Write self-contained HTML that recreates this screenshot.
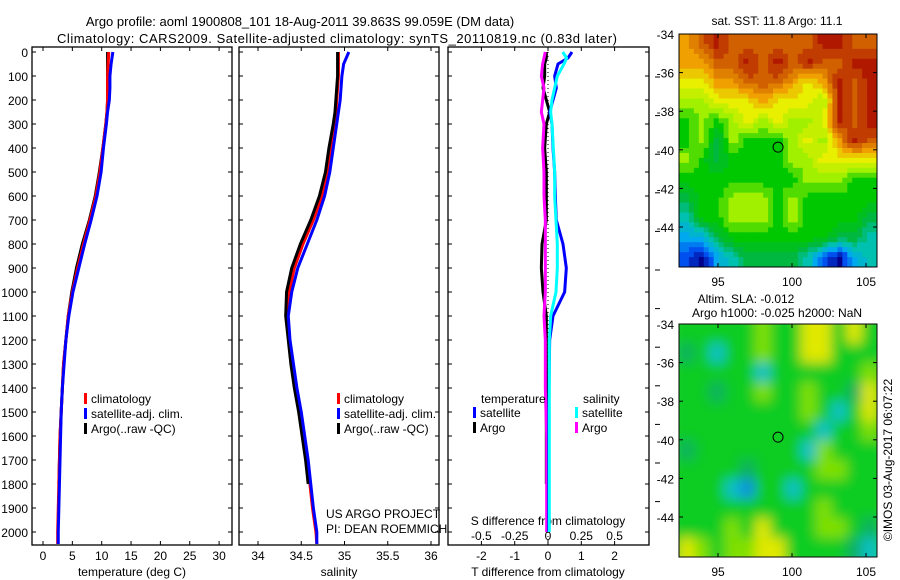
<!DOCTYPE html>
<html><head><meta charset="utf-8"><style>
body{margin:0;background:#fff;}
svg{display:block;font-family:"Liberation Sans",sans-serif;}
text{fill:#000;}
</style></head><body>
<svg id="c" width="900" height="580" viewBox="0 0 900 580">
<defs>
<filter id="blur" x="0" y="0" width="1" height="1"><feGaussianBlur stdDeviation="6"/></filter>
<clipPath id="clipB"><rect x="679" y="324" width="198" height="233"/></clipPath>
</defs>
<text x="300" y="26" font-size="13" text-anchor="middle">Argo profile: aoml 1900808_101 18-Aug-2011 39.863S 99.059E (DM data)</text>
<text x="57" y="43" font-size="13" textLength="560">Climatology: CARS2009. Satellite-adjusted climatology: synTS_20110819.nc (0.83d later)</text>
<g id="g"></g>
</svg>
<script>
// ---------- data ----------
const depthLabels=[0,100,200,300,400,500,600,700,800,900,1000,1100,1200,1300,1400,1500,1600,1700,1800,1900,2000];
const tempTicks=[0,5,10,15,20,25,30];
const salTicks=[34,34.5,35,35.5,36];
const tdiffTicks=[-2,-1,0,1,2];
const sdiffTicks=[-0.5,-0.25,0,0.25,0.5];
const profDepth=[0,50,100,150,200,250,300,400,500,600,700,800,900,1000,1100,1200,1300,1400,1500,1600,1700,1800,1900,2000,2050];
const tempClim=[11.2,11.1,11.0,11.0,11.0,10.9,10.7,10.2,9.7,9.0,8.0,6.9,5.9,5.0,4.3,3.9,3.5,3.3,3.1,2.9,2.8,2.7,2.6,2.5,2.5];
const tempSat=[11.9,11.6,11.4,11.4,11.3,11.0,10.8,10.3,9.9,9.2,8.2,7.1,6.1,5.1,4.4,3.9,3.6,3.3,3.1,3.0,2.9,2.8,2.7,2.6,2.6];
const tempArgo=[11.0,11.0,11.0,11.0,11.0,10.9,10.7,10.2,9.6,8.9,7.9,6.7,5.7,4.9,4.3,3.9,3.5,3.3,3.1,2.9,2.8,2.7];
const salClim=[34.93,34.93,34.93,34.92,34.91,34.90,34.88,34.84,34.80,34.74,34.64,34.52,34.42,34.36,34.34,34.36,34.40,34.44,34.49,34.53,34.57,34.60,34.63,34.67,34.68];
const salSat=[35.05,34.99,34.97,34.96,34.95,34.93,34.91,34.87,34.83,34.77,34.68,34.57,34.46,34.39,34.35,34.37,34.41,34.45,34.50,34.54,34.58,34.61,34.64,34.68,34.68];
const salArgo=[34.92,34.92,34.92,34.91,34.90,34.89,34.87,34.82,34.78,34.71,34.61,34.49,34.39,34.33,34.32,34.35,34.38,34.42,34.47,34.51,34.55,34.58];
const diffDepth=[0,25,50,100,150,200,250,300,400,500,600,700,800,900,1000,1100,1200,1400,1600,1800,2000];
const tdiffSat=[0.72,0.6,0.3,0.2,0.25,0.15,0.05,0.12,0.15,0.2,0.22,0.25,0.45,0.55,0.5,0.15,0.05,0.03,0.02,0.02,0.02];
const tdiffArgo=[-0.05,-0.05,-0.1,-0.1,-0.15,-0.05,0.05,-0.05,-0.1,-0.05,-0.05,-0.05,-0.18,-0.2,-0.15,-0.05,-0.05,-0.05,-0.05,-0.05];
const sdiffSat=[0.11,0.14,0.12,0.07,0.05,0.03,0.02,0.03,0.04,0.05,0.05,0.06,0.07,0.07,0.06,0.02,0.01,0.01,0.01,0.01,0.01];
const sdiffArgo=[-0.02,-0.03,-0.04,-0.05,-0.03,-0.04,-0.05,-0.03,-0.04,-0.03,-0.03,-0.02,-0.02,-0.02,-0.02,-0.03,-0.02,-0.02,-0.01,-0.01,-0.01];
const mapLonTicks=[95,100,105];
const mapLatTicks=[-34,-36,-38,-40,-42,-44];
const sstGrid=["89a999999aa99","8899a9a9a99aa","7788999878a9a","6677787776a9a","5656767667a9a","56465556768a9","6545555667777","5555555566655","4556665655555","3556665655554","2245555555443","1023444431023"];
const slaGrid=["5555565577575","4535565577555","5555535555556","5545565565547","5555555565357","5555555553556","4555555536555","5555455556655","5553255355555","5555555556555","5556575556654","7656677555543"];
const floatLon=99.059, floatLat=-39.863;
// ---------- helpers ----------
const NS="http://www.w3.org/2000/svg", G=document.getElementById('g');
function el(t,a,p){const e=document.createElementNS(NS,t);for(const k in a)e.setAttribute(k,a[k]);(p||G).appendChild(e);return e;}
function txt(x,y,s,size,anchor){const e=el('text',{x:x,y:y,'font-size':size||12,'text-anchor':anchor||'start'});e.textContent=s;return e;}
const yD=d=>52+d*0.24;
const xT=v=>43+v*5.87;
const xS=v=>258+(v-34)*86.5;
const xD=v=>548+v*33.3;
const xSD=v=>548+v*4*33.3;
const xLon=v=>718+(v-95)*14.8;
const yLat=v=>38+(-34-v)*19.3;
function frame(x0,x1,name){const r=el('rect',{x:x0,y:47,width:x1-x0,height:498,fill:'none',stroke:'#000','stroke-width':1.3});}
function line(xs,ds,xf,yf,col,name,w){let p=[];for(let i=0;i<xs.length;i++){p.push(xf(xs[i])+','+yf(ds[i]));}
const l=el('polyline',{points:p.join(' '),fill:'none',stroke:col,'stroke-width':w||3,'stroke-linejoin':'round'});}
// ---------- profile panels ----------
frame(32,232,'temperature-panel');frame(239,439,'salinity-panel');frame(448,649,'difference-panel');
depthLabels.forEach(d=>{const y=yD(d);
 const t=txt(28,y+5,String(d),12,'end');
 [[32,1],[232,-1],[239,1],[439,-1],[448,1],[649,-1]].forEach(([x,s])=>el('line',{x1:x,x2:x+s*4,y1:y,y2:y,stroke:'#000'}));});
tempTicks.forEach(v=>{const x=xT(v);el('line',{x1:x,x2:x,y1:545,y2:541,stroke:'#000'});el('line',{x1:x,x2:x,y1:47,y2:51,stroke:'#000'});
 const t=txt(x,560,String(v),12,'middle');});
salTicks.forEach(v=>{const x=xS(v);el('line',{x1:x,x2:x,y1:545,y2:541,stroke:'#000'});el('line',{x1:x,x2:x,y1:47,y2:51,stroke:'#000'});
 const t=txt(x,560,String(v),12,'middle');});
tdiffTicks.forEach(v=>{const x=xD(v);el('line',{x1:x,x2:x,y1:545,y2:541,stroke:'#000'});el('line',{x1:x,x2:x,y1:47,y2:51,stroke:'#000'});
 const t=txt(x,560,String(v),12,'middle');});
sdiffTicks.forEach(v=>{const t=txt(xSD(v),540,String(v),12,'middle');});
for(let y=77;y<=525;y+=38.6)el('line',{x1:655,x2:660,y1:y,y2:y,stroke:'#000'});
let a=txt(132,576,'temperature (deg C)',12,'middle');
a=txt(339,576,'salinity',12,'middle');
a=txt(548,576,'T difference from climatology',12,'middle');
a=txt(548,525,'S difference from climatology',12,'middle');
el('line',{x1:548,x2:548,y1:52,y2:545,stroke:'#000','stroke-dasharray':'1,3'});
line(tempArgo,profDepth,xT,yD,'#000','temp-argo-line');
line(tempClim,profDepth,xT,yD,'#f00','temp-clim-line');
line(tempSat,profDepth,xT,yD,'#00f','temp-sat-line');
line(salClim,profDepth,xS,yD,'#f00','sal-clim-line');
line(salArgo,profDepth,xS,yD,'#000','sal-argo-line');
line(salSat,profDepth,xS,yD,'#00f','sal-sat-line');
line(tdiffArgo,diffDepth,xD,yD,'#000','tdiff-argo-line');
line(sdiffArgo,diffDepth,xSD,yD,'#f0f','sdiff-argo-line');
line(tdiffSat,diffDepth,xD,yD,'#00f','tdiff-sat-line');
line(sdiffSat,diffDepth,xSD,yD,'#0ff','sdiff-sat-line');
function leg(x,y,col,s,name){el('rect',{x:x,y:y-10,width:3,height:11,fill:col});const t=txt(x+7,y,s,12);}
leg(84,403,'#f00','climatology','legend-climatology');leg(84,418,'#00f','satellite-adj. clim.','legend-satellite');leg(84,433,'#000','Argo(..raw -QC)','legend-argo');
leg(337,403,'#f00','climatology','legend2-climatology');leg(337,418,'#00f','satellite-adj. clim.','legend2-satellite');leg(337,433,'#000','Argo(..raw -QC)','legend2-argo');
a=txt(481,403,'temperature',12);
a=txt(583,403,'salinity',12);
leg(473,417,'#00f','satellite','legend-tdiff-sat');leg(473,432,'#000','Argo','legend-tdiff-argo');
leg(575,417,'#0ff','satellite','legend-sdiff-sat');leg(575,432,'#f0f','Argo','legend-sdiff-argo');
a=txt(326,518,'US ARGO PROJECT',12);
a=txt(326,533,'PI: DEAN ROEMMICH',12);
// ---------- maps ----------
const jet=[[0,[0,0,140]],[1,[0,80,240]],[2,[0,168,240]],[3,[0,192,176]],[4,[0,184,64]],[5,[0,200,0]],[6,[160,240,0]],[7,[232,240,0]],[8,[240,160,0]],[9,[208,96,0]],[10,[176,24,0]]];
function jetCol(v){v=Math.max(0,Math.min(10,v));const i=Math.min(9,Math.floor(v));const f=v-i;const a=jet[i][1],b=jet[i+1][1];
 return 'rgb('+a.map((c,k)=>Math.round(c+(b[k]-c)*f)).join(',')+')';}
const cv=c=>c==='a'?10:parseInt(c,10);
function sample(grid,u,v){const R=grid.length,C=grid[0].length;const x=Math.max(0,Math.min(C-1,u*C-0.5)),y=Math.max(0,Math.min(R-1,v*R-0.5));
 const x0=Math.floor(x),y0=Math.floor(y),x1=Math.min(C-1,x0+1),y1=Math.min(R-1,y0+1),fx=x-x0,fy=y-y0;
 const g=(r,c)=>cv(grid[r][c]);return (g(y0,x0)*(1-fx)+g(y0,x1)*fx)*(1-fy)+(g(y1,x0)*(1-fx)+g(y1,x1)*fx)*fy;}
function axesMap(y0){el('rect',{x:679,y:y0,width:198,height:233,fill:'none',stroke:'#000'});
 const ctr=el('circle',{cx:xLon(floatLon),cy:y0-34+yLat(floatLat)-4,r:5,fill:'none',stroke:'#000'});
 mapLatTicks.forEach(v=>{const y=y0-34+yLat(v)-4;el('line',{x1:679,x2:683,y1:y,y2:y,stroke:'#000'});el('line',{x1:877,x2:873,y1:y,y2:y,stroke:'#000'});
  const t=txt(674,y+5,String(v),12,'end');});
 mapLonTicks.forEach(v=>{const x=xLon(v);el('line',{x1:x,x2:x,y1:y0,y2:y0+4,stroke:'#000'});el('line',{x1:x,x2:x,y1:y0+233,y2:y0+229,stroke:'#000'});
  const t=txt(x,y0+252,String(v),12,'middle');});}
// SST: pixelated interpolated field
(function(){const gg=el('g',{});
 const NX=40,NY=47,cw=198/NX,ch=233/NY;
 for(let i=0;i<NY;i++)for(let j=0;j<NX;j++){const v=sample(sstGrid,(j+0.5)/NX,(i+0.5)/NY);
  el('rect',{x:679+j*cw,y:34+i*ch,width:cw+0.5,height:ch+0.5,fill:jetCol(Math.round(v*2)/2)},gg);}
 axesMap(34);})();
// SLA: smooth blurred field
const slaCol={'2':'#1090e0','3':'#10c0c8','4':'#10b060','5':'#10cc20','6':'#80e000','7':'#e0e800'};
(function(){const gg=el('g',{'clip-path':'url(#clipB)'});
 const inner=el('g',{filter:'url(#blur)'},gg);const cw=198/13,ch=233/12,y0=324;
 el('rect',{x:669,y:y0-10,width:218,height:253,fill:slaCol['5']},inner);
 slaGrid.forEach((r,i)=>{for(let j=0;j<r.length;j++){el('rect',{x:679+j*cw,y:y0+i*ch,width:cw+0.6,height:ch+0.6,fill:slaCol[r[j]]},inner);}});
 for(let j=0;j<13;j++){el('rect',{x:679+j*cw,y:y0-10,width:cw+0.6,height:10,fill:slaCol[slaGrid[0][j]]},inner);el('rect',{x:679+j*cw,y:y0+233,width:cw+0.6,height:10,fill:slaCol[slaGrid[11][j]]},inner);}
 axesMap(324);})();
a=txt(777,25,'sat. SST: 11.8 Argo: 11.1',12,'middle');
a=txt(746,303,'Altim. SLA: -0.012',12,'middle');
a=txt(777,317,'Argo h1000: -0.025 h2000: NaN',12,'middle');
a=txt(0,0,'©IMOS 03-Aug-2017 06:07:22',12,'middle');a.setAttribute('transform','translate(892,460) rotate(-90)');
</script>
</body></html>
